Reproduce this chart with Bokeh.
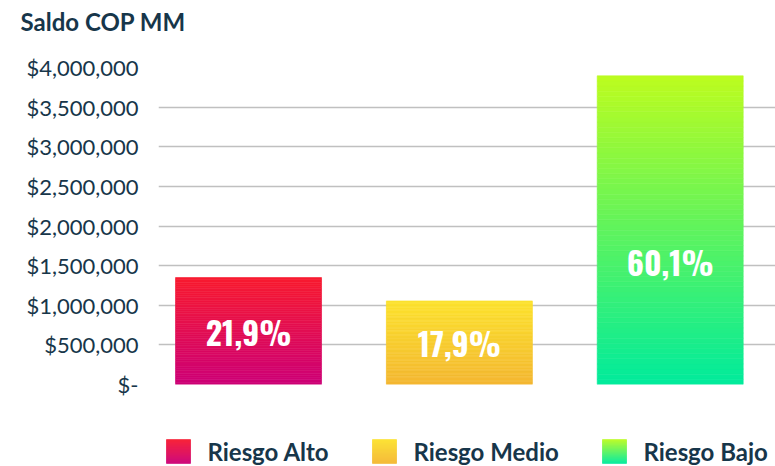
import numpy as np
from bokeh.plotting import figure
from bokeh.layouts import column
from bokeh.models import Range1d, FixedTicker, CustomJSTickFormatter, ColumnDataSource, Title
from bokeh.core.properties import value
from bokeh.embed import file_html
from bokeh.resources import INLINE

# ---- data ----
categories = ["Riesgo Alto", "Riesgo Medio", "Riesgo Bajo"]
saldo = [1350000, 1055000, 3895000]
share_labels = ["21,9%", "17,9%", "60,1%"]
y_ticks = [0, 500000, 1000000, 1500000, 2000000, 2500000, 3000000, 3500000, 4000000]

# ---- styles ----
top_colors = ["#F81B2F", "#FCE22E", "#BDFC1F"]
bottom_colors = ["#CC0077", "#F4B731", "#00EB9C"]
label_frac = [0.5, 0.5, 0.4]
TEXT = "#17364A"
FONT = "Lato"
PCT_FONT = "'Oswald', 'Bebas Neue', 'Roboto Condensed', 'Liberation Sans Narrow', 'DejaVu Sans Condensed', sans-serif"

W = 775
FL = 158          # frame left
FT = 67           # frame top
FB = 24           # border below frame
H_MAIN = 408
H_LEG = 58
X0, X1 = -0.427, 2.4994
Y0, Y1 = 0, 4000000


def hex2rgb(h):
    h = h.lstrip("#")
    return [int(h[i:i + 2], 16) for i in (0, 2, 4)]


def mix(c_top, c_bot, t):
    a, b = hex2rgb(c_top), hex2rgb(c_bot)
    return "#%02x%02x%02x" % tuple(int(round(a[j] + (b[j] - a[j]) * t)) for j in range(3))


p = figure(width=W, height=H_MAIN, output_backend="svg", toolbar_location=None,
           x_range=Range1d(X0, X1), y_range=Range1d(Y0, Y1),
           x_axis_location=None, title=None,
           min_border_left=FL, min_border_right=0, min_border_top=FT, min_border_bottom=FB)
p.outline_line_color = None
p.xgrid.visible = False
p.ygrid.grid_line_color = "#C0C0C0"
p.ygrid.grid_line_width = 1.3

# spacer panel between frame and title, then the title itself
spacer = Title(text=" ", text_font_size="1px", standoff=29)
p.add_layout(spacer, "above")
ttl = Title(text="Saldo COP MM", text_font=FONT, text_font_size="24px",
            text_font_style="bold", text_color=TEXT, align="left",
            offset=20 - FL, standoff=0, vertical_align="bottom")
p.add_layout(ttl, "above")

ax = p.yaxis[0]
ax.ticker = FixedTicker(ticks=y_ticks)
ax.formatter = CustomJSTickFormatter(code="""
    if (tick == 0) { return "$-"; }
    return "$" + Math.round(tick).toLocaleString("en-US");
""")
ax.axis_line_color = None
ax.major_tick_line_color = None
ax.minor_tick_line_color = None
ax.major_tick_out = 0
ax.major_tick_in = 0
ax.major_label_standoff = 20
ax.major_label_text_font = FONT
ax.major_label_text_font_size = "22px"
ax.major_label_text_color = TEXT

# gradient bars built from stacked slices of each value
N = 60
bw = 0.6924
for i, v in enumerate(saldo):
    k = np.arange(N)
    bottoms = v * k / N
    tops = v * (k + 1) / N
    cols = [mix(top_colors[i], bottom_colors[i], 1 - (kk + 0.5) / N) for kk in k]
    src = ColumnDataSource(dict(x=[i] * N, bottom=bottoms, top=tops, c=cols))
    p.vbar(x="x", width=bw, bottom="bottom", top="top", fill_color="c",
           line_color="c", line_width=0.6, source=src)

p.text(x=list(range(len(saldo))), y=[v * f for v, f in zip(saldo, label_frac)],
       text=share_labels, text_align="center", text_baseline="middle",
       text_color="white", text_font_size="32px", text_font_style="bold",
       text_font=value(PCT_FONT))

# ---- legend ----
leg = figure(width=W, height=H_LEG, output_backend="svg", toolbar_location=None,
             x_range=Range1d(FL, W), y_range=Range1d(H_LEG, 0),
             x_axis_location=None, y_axis_location=None,
             min_border_left=FL, min_border_right=0, min_border_top=0, min_border_bottom=0)
leg.outline_line_color = None
leg.grid.visible = False

sw_x = [166, 372, 602]
txt_x = [207, 413, 643]
SW = 24
M = 24
for i in range(len(categories)):
    k = np.arange(M)
    cols = [mix(top_colors[i], bottom_colors[i], (kk + 0.5) / M) for kk in k]
    leg.quad(left=[sw_x[i]] * M, right=[sw_x[i] + SW] * M,
             top=list(31 + k), bottom=list(32 + k), fill_color=cols,
             line_color=cols, line_width=0.6)
leg.text(x=txt_x, y=[43] * 3, text=categories, text_baseline="middle",
         text_color=TEXT, text_font=value(FONT), text_font_style="bold",
         text_font_size="24px")

layout = column(p, leg, spacing=0)
open("out.html", "w").write(file_html(layout, INLINE))
